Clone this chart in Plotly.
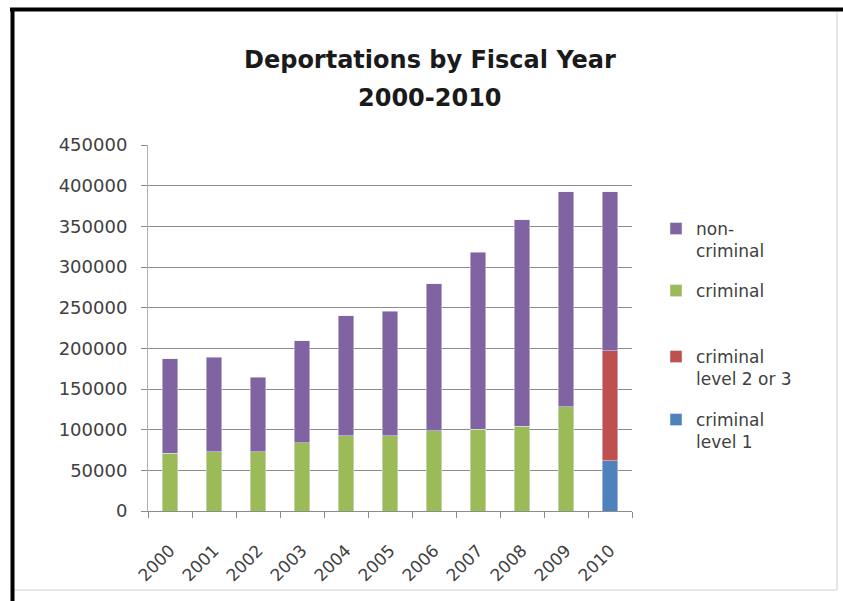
import plotly.graph_objects as go

years = ["2000", "2001", "2002", "2003", "2004", "2005", "2006", "2007", "2008", "2009", "2010"]
non_criminal = [115900, 115900, 91600, 125300, 147900, 153300, 180800, 217700, 254300, 264100, 195100]
criminal = [71000, 73100, 72700, 84200, 92400, 92400, 98600, 100700, 104000, 128200, None]
criminal_l23 = [None] * 10 + [135600]
criminal_l1 = [None] * 10 + [61600]
y_ticks = list(range(0, 450001, 50000))

W, H = 843, 601
L, R, T, B = 148, 632, 145, 511
PW, PH = R - L, B - T


def px(x):
    return (x - L) / PW


def py(y):
    return (B - y) / PH


FONT = "DejaVu Sans"
TXT = "#404040"

fig = go.Figure()
fig.add_trace(go.Bar(x=years, y=criminal_l1, name="criminal<br>level 1", marker_color="#4F81BD",
                     legend="legend4"))
fig.add_trace(go.Bar(x=years, y=criminal, name="criminal", marker_color="#9BBB59",
                     legend="legend2"))
fig.add_trace(go.Bar(x=years, y=criminal_l23, name="criminal<br>level 2 or 3", marker_color="#C0504D",
                     legend="legend3"))
fig.add_trace(go.Bar(x=years, y=non_criminal, name="non-<br>criminal", marker_color="#8064A2",
                     legend="legend"))

legend_common = dict(xanchor="left", yanchor="top", traceorder="normal", valign="top",
                     font=dict(family=FONT, size=17, color=TXT), bgcolor="rgba(0,0,0,0)")

fig.update_layout(
    width=W, height=H,
    margin=dict(l=L, r=W - R, t=T, b=H - B),
    paper_bgcolor="white", plot_bgcolor="white",
    barmode="stack", bargap=0.64,
    showlegend=True,
    font=dict(family=FONT, size=16, color=TXT),
    legend=dict(x=px(656), y=py(211), **legend_common),
    legend2=dict(x=px(656), y=py(273), **legend_common),
    legend3=dict(x=px(656), y=py(339), **legend_common),
    legend4=dict(x=px(656), y=py(402), **legend_common),
    xaxis=dict(type="category", categoryorder="array", categoryarray=years,
               tickangle=-45, ticks="outside", tickson="boundaries", ticklen=6,
               tickcolor="#8c8c8c", showline=True, linecolor="#8c8c8c", linewidth=1,
               ticklabelstandoff=22,
               tickfont=dict(family=FONT, size=17, color=TXT), showgrid=False),
    yaxis=dict(range=[0, 450000], tickvals=y_ticks, ticktext=[str(v) for v in y_ticks],
               ticks="outside", ticklen=6, tickcolor="#8c8c8c", ticklabelstandoff=10,
               showline=True, linecolor="#b0b0b0", linewidth=1,
               showgrid=True, gridcolor="#8c8c8c", gridwidth=1, zeroline=False,
               tickfont=dict(family=FONT, size=18, color=TXT)),
    annotations=[
        dict(text="<b>Deportations by Fiscal Year</b>", x=px(430), y=py(60), xref="paper", yref="paper",
             xanchor="center", yanchor="middle", showarrow=False,
             font=dict(family=FONT, size=24, color="#1a1a1a")),
        dict(text="<b>2000-2010</b>", x=px(430), y=py(98), xref="paper", yref="paper",
             xanchor="center", yanchor="middle", showarrow=False,
             font=dict(family=FONT, size=24, color="#1a1a1a")),
    ],
    shapes=[
        dict(type="line", xref="paper", yref="paper", x0=px(837), x1=px(837), y0=py(10), y1=py(590),
             line=dict(color="#d0d0d0", width=1)),
        dict(type="line", xref="paper", yref="paper", x0=px(12), x1=px(837), y0=py(590), y1=py(590),
             line=dict(color="#d0d0d0", width=1)),
        dict(type="line", xref="paper", yref="paper", x0=px(12.5), x1=px(12.5), y0=py(8), y1=py(601),
             line=dict(color="black", width=4)),
        dict(type="line", xref="paper", yref="paper", x0=px(10), x1=px(843), y0=py(9.5), y1=py(9.5),
             line=dict(color="black", width=4)),
    ],
)

fig.write_html("out.html")
